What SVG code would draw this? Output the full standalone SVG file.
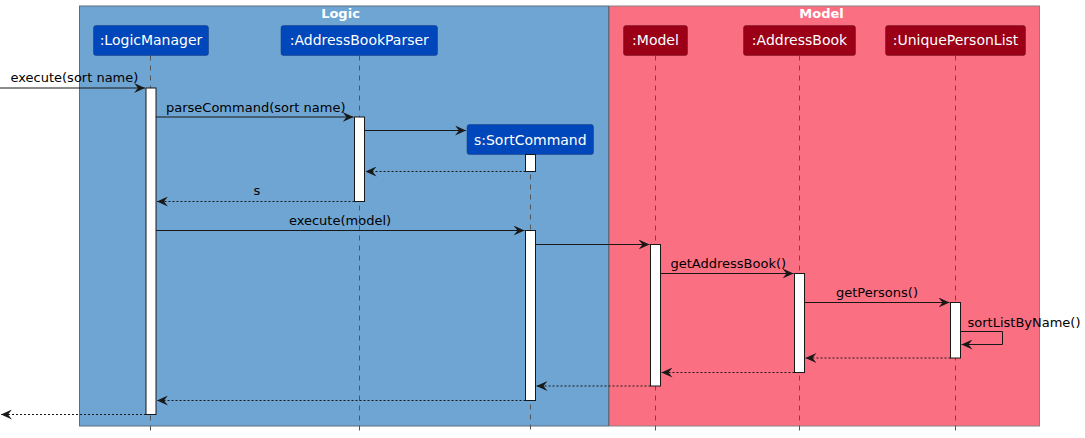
<svg xmlns="http://www.w3.org/2000/svg" width="1085" height="438" viewBox="0 0 1085 438">
<defs>
<style>
text{font-family:"DejaVu Sans","Liberation Sans",sans-serif;}
.box-title{font-size:13px;font-weight:bold;fill:#ffffff;text-anchor:middle;}
.pname{font-size:14px;fill:#ffffff;text-anchor:middle;}
.msg{font-size:13px;fill:#000000;}
.life{stroke:#555555;stroke-width:1;stroke-dasharray:5,5;fill:none;}
.act{fill:#ffffff;stroke:#181818;stroke-width:1;}
.pl{fill:#0047BB;stroke:#1B3A78;stroke-width:0.5;}
.pm{fill:#9B0016;stroke:#6A1020;stroke-width:0.5;}
.call{stroke:#181818;stroke-width:1;fill:none;}
.ret{stroke:#181818;stroke-width:1;fill:none;stroke-dasharray:2,2;}
</style>
<marker id="ah" viewBox="0 0 11 10" refX="11" refY="5" markerWidth="11" markerHeight="10" markerUnits="userSpaceOnUse" orient="auto">
<path d="M0,0 L11,5 L0,10 L4,5 Z" fill="#181818"/>
</marker>
</defs>
<rect x="0" y="0" width="1085" height="438" fill="#ffffff"/>
<g id="box-logic">
<rect x="79.5" y="6" width="529" height="420" fill="#6FA5D3" stroke="#5B6E80" stroke-width="1"/>
<text class="box-title" x="340.5" y="18">Logic</text>
</g>
<g id="box-model">
<rect x="609.5" y="6" width="430" height="420" fill="#FA7082" stroke="#8A7E80" stroke-width="1"/>
<text class="box-title" x="821.5" y="18">Model</text>
</g>
<g id="lifelines">
<line class="life" x1="150.5" y1="55.5" x2="150.5" y2="432"/>
<line class="life" x1="359.5" y1="55.5" x2="359.5" y2="432"/>
<line class="life" x1="530.5" y1="154.5" x2="530.5" y2="432"/>
<line class="life" x1="655.5" y1="55.5" x2="655.5" y2="432"/>
<line class="life" x1="799.5" y1="55.5" x2="799.5" y2="432"/>
<line class="life" x1="955.5" y1="55.5" x2="955.5" y2="432"/>
</g>
<g id="node-logicmanager">
<rect class="pl" x="93.5" y="25.5" width="115" height="30" rx="2.5"/>
<text class="pname" x="151" y="45">:LogicManager</text>
</g>
<g id="node-addressbookparser">
<rect class="pl" x="281" y="25.5" width="156.5" height="30" rx="2.5"/>
<text class="pname" x="359.3" y="45">:AddressBookParser</text>
</g>
<g id="node-sortcommand">
<rect class="pl" x="467" y="124.5" width="126.5" height="30" rx="2.5"/>
<text class="pname" x="530.3" y="145">s:SortCommand</text>
</g>
<g id="node-model">
<rect class="pm" x="623.5" y="25.5" width="64" height="30" rx="2.5"/>
<text class="pname" x="655.5" y="45">:Model</text>
</g>
<g id="node-addressbook">
<rect class="pm" x="743.5" y="25.5" width="112" height="30" rx="2.5"/>
<text class="pname" x="799.5" y="45">:AddressBook</text>
</g>
<g id="node-uniquepersonlist">
<rect class="pm" x="885.5" y="25.5" width="140" height="30" rx="2.5"/>
<text class="pname" x="955.5" y="45">:UniquePersonList</text>
</g>
<g id="activations">
<rect class="act" x="146" y="88" width="10" height="326.5"/>
<rect class="act" x="354.5" y="117" width="10" height="84.5"/>
<rect class="act" x="525.5" y="154.5" width="10" height="17"/>
<rect class="act" x="525.5" y="230.5" width="10" height="170"/>
<rect class="act" x="650.5" y="244.5" width="10" height="141.5"/>
<rect class="act" x="794.5" y="273.5" width="10" height="99"/>
<rect class="act" x="950.5" y="302.5" width="10" height="55.5"/>
</g>
<g id="connectors">
<line class="call" x1="0" y1="88" x2="145" y2="88" marker-end="url(#ah)"/>
<text class="msg" x="10.5" y="82">execute(sort name)</text>
<line class="call" x1="156" y1="117" x2="353.5" y2="117" marker-end="url(#ah)"/>
<text class="msg" x="166" y="111.5">parseCommand(sort name)</text>
<line class="call" x1="364.5" y1="130.5" x2="466" y2="130.5" marker-end="url(#ah)"/>
<line class="ret" x1="525.5" y1="171.5" x2="365.5" y2="171.5" marker-end="url(#ah)"/>
<line class="ret" x1="354.5" y1="201.5" x2="157" y2="201.5" marker-end="url(#ah)"/>
<text class="msg" x="257" y="195" text-anchor="middle">s</text>
<line class="call" x1="156" y1="230.5" x2="524.5" y2="230.5" marker-end="url(#ah)"/>
<text class="msg" x="340" y="225" text-anchor="middle">execute(model)</text>
<line class="call" x1="535.5" y1="244.5" x2="649.5" y2="244.5" marker-end="url(#ah)"/>
<line class="call" x1="660.5" y1="273.5" x2="793.5" y2="273.5" marker-end="url(#ah)"/>
<text class="msg" x="670.5" y="268">getAddressBook()</text>
<line class="call" x1="804.5" y1="302.5" x2="949.5" y2="302.5" marker-end="url(#ah)"/>
<text class="msg" x="877" y="297" text-anchor="middle">getPersons()</text>
<polyline class="call" points="960.5,331.5 1002.5,331.5 1002.5,344.5 961.5,344.5" marker-end="url(#ah)"/>
<text class="msg" x="967.5" y="327">sortListByName()</text>
<line class="ret" x1="950.5" y1="358" x2="805.5" y2="358" marker-end="url(#ah)"/>
<line class="ret" x1="794.5" y1="372.5" x2="661.5" y2="372.5" marker-end="url(#ah)"/>
<line class="ret" x1="650.5" y1="386" x2="536.5" y2="386" marker-end="url(#ah)"/>
<line class="ret" x1="525.5" y1="400.5" x2="157" y2="400.5" marker-end="url(#ah)"/>
<line class="ret" x1="146" y1="414.5" x2="1" y2="414.5" marker-end="url(#ah)"/>
</g>
</svg>
